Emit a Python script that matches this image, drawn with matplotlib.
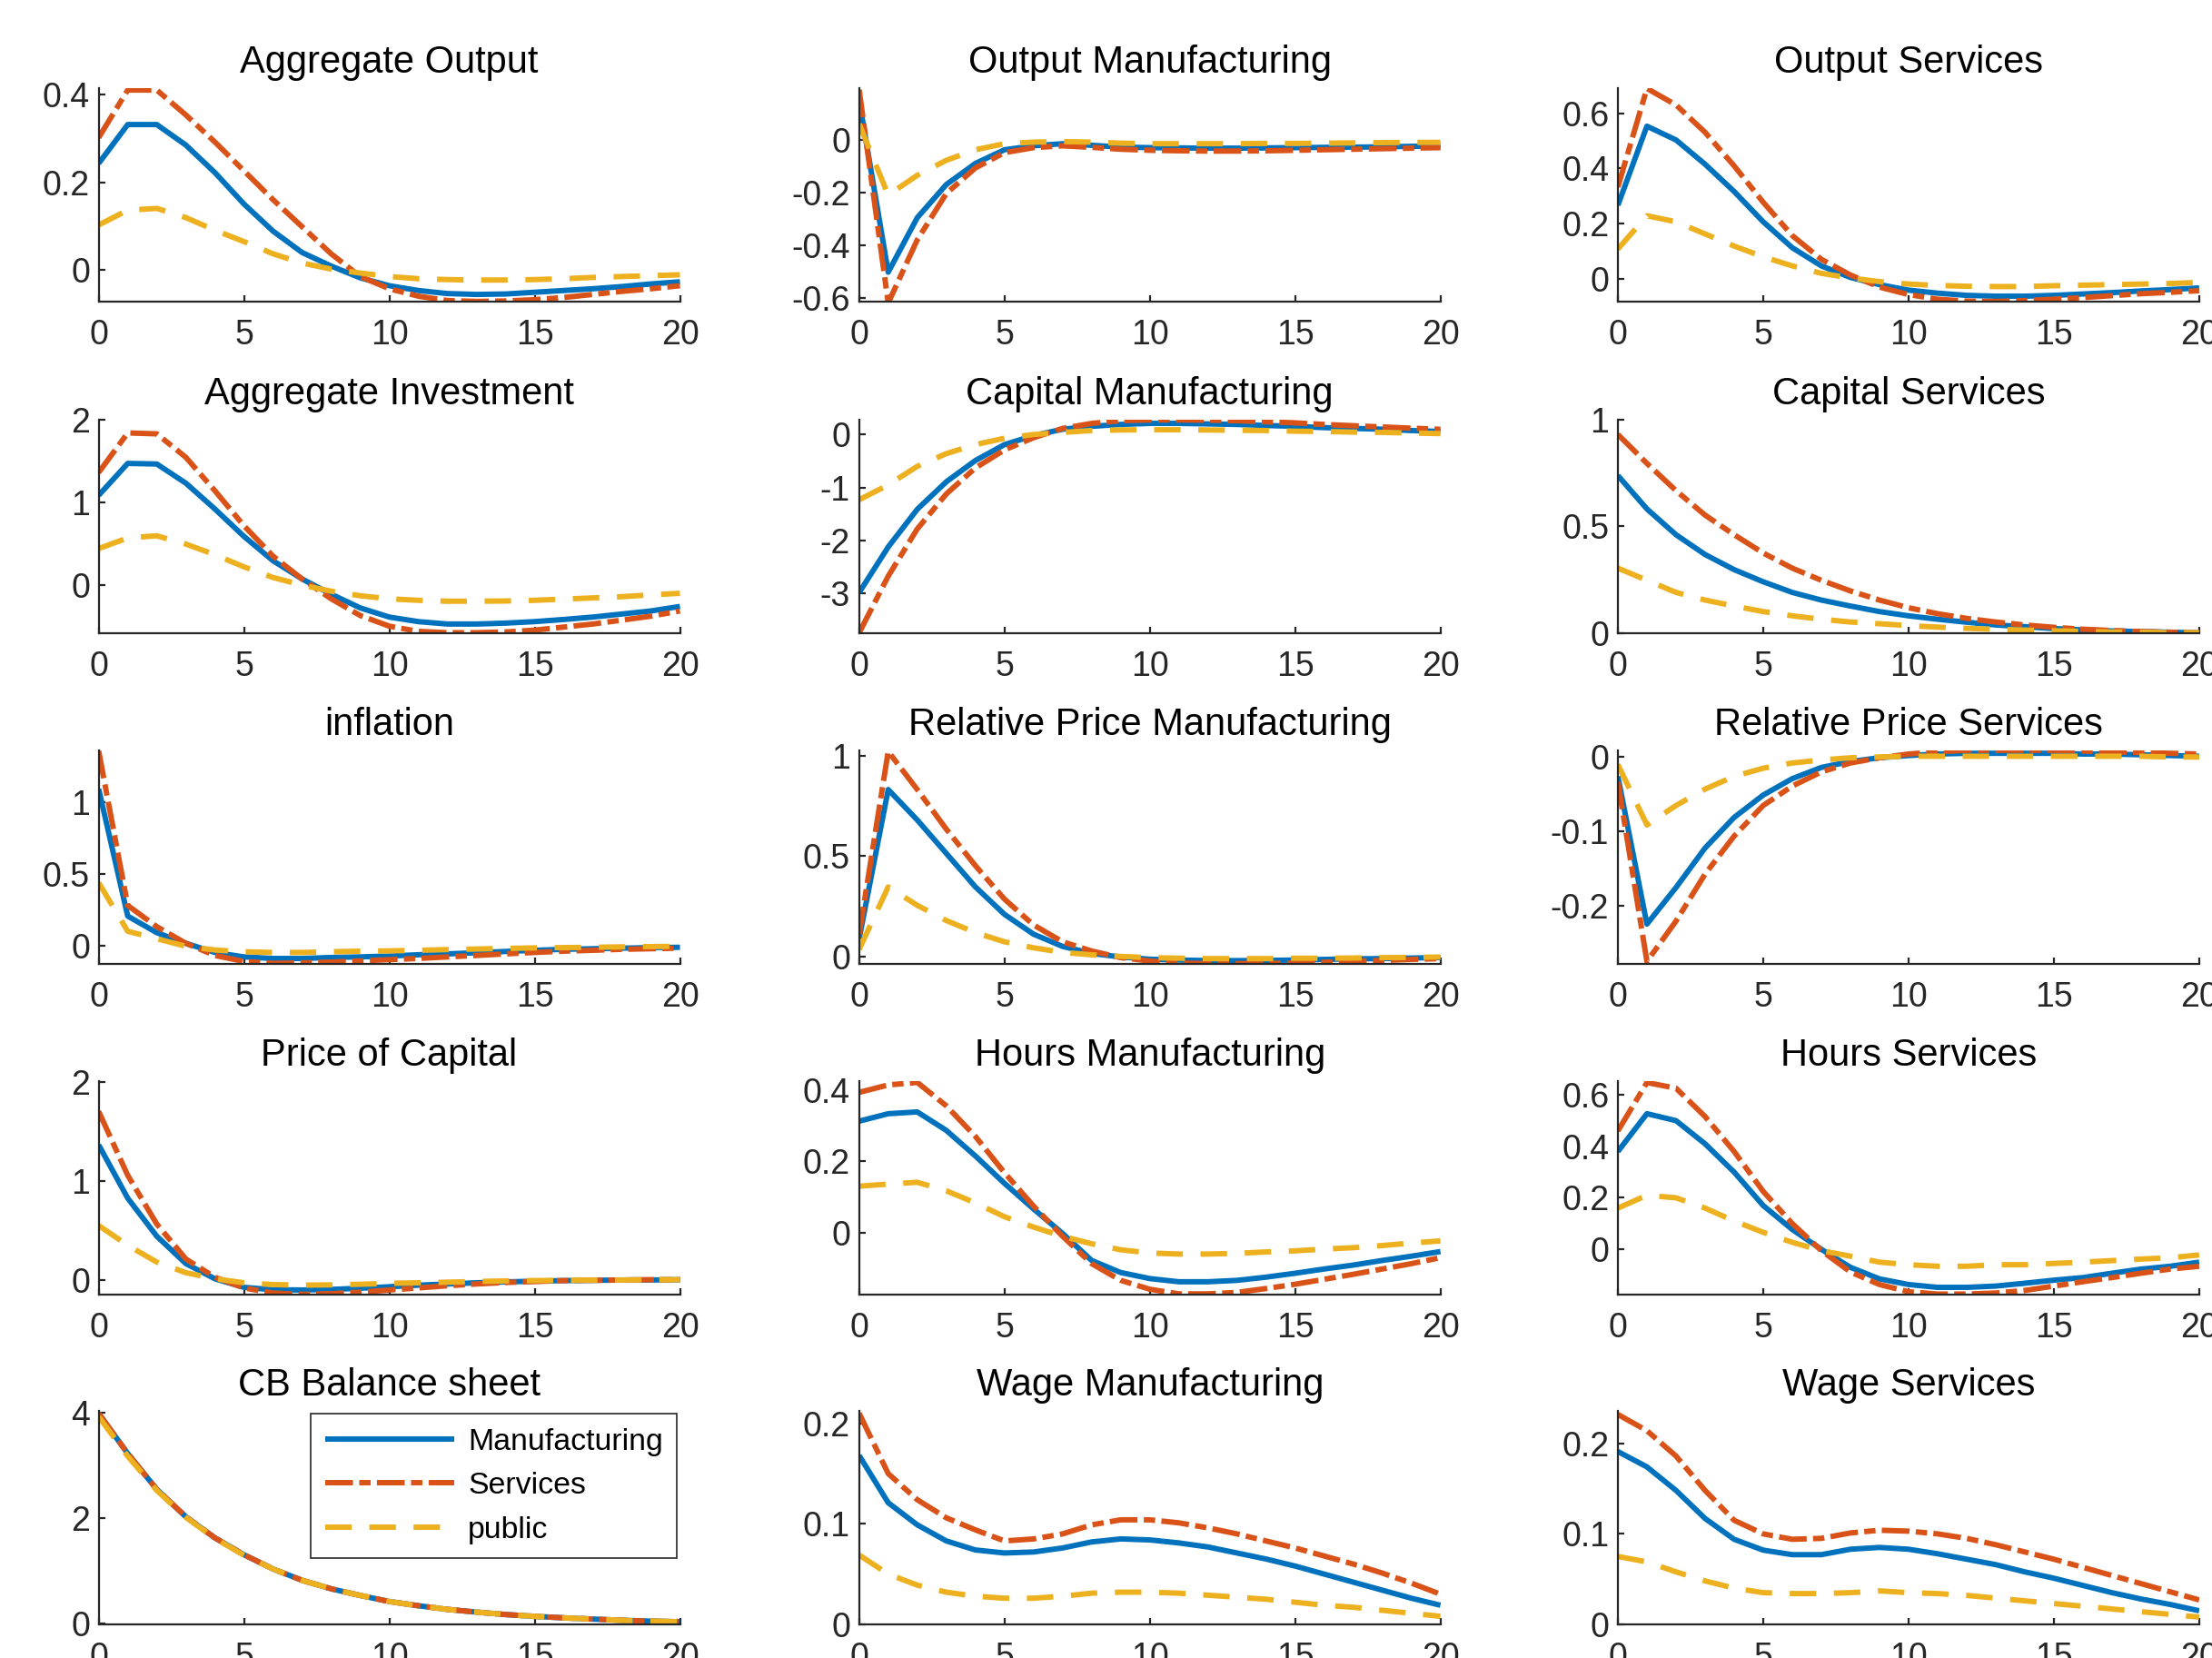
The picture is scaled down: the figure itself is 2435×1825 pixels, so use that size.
import numpy as np
import matplotlib
matplotlib.use("Agg")
import matplotlib.pyplot as plt

plt.rcParams["font.family"] = ["Liberation Sans", "DejaVu Sans"]
plt.rcParams["axes.unicode_minus"] = False
plt.rcParams["lines.scale_dashes"] = False

horizon = np.arange(21)

# ---- impulse responses: Manufacturing / Services / public -----------------
agg_output_manuf = [0.243, 0.332, 0.332, 0.285, 0.222, 0.150, 0.088, 0.039, 0.008, -0.019, -0.037,
                    -0.048, -0.055, -0.057, -0.056, -0.052, -0.048, -0.044, -0.039, -0.033, -0.028]
agg_output_serv = [0.302, 0.411, 0.411, 0.354, 0.292, 0.226, 0.160, 0.098, 0.036, -0.016, -0.044,
                   -0.061, -0.071, -0.073, -0.072, -0.069, -0.064, -0.057, -0.050, -0.044, -0.037]
agg_output_pub = [0.102, 0.136, 0.140, 0.119, 0.090, 0.064, 0.036, 0.015, 0.001, -0.008, -0.016,
                  -0.021, -0.023, -0.024, -0.024, -0.023, -0.021, -0.018, -0.016, -0.014, -0.012]

out_manuf_manuf = [0.151, -0.503, -0.296, -0.170, -0.090, -0.038, -0.023, -0.015, -0.021, -0.028, -0.030,
                   -0.031, -0.032, -0.032, -0.031, -0.030, -0.029, -0.028, -0.027, -0.025, -0.024]
out_manuf_serv = [0.190, -0.620, -0.380, -0.204, -0.107, -0.049, -0.030, -0.023, -0.029, -0.036, -0.040,
                  -0.042, -0.043, -0.043, -0.042, -0.040, -0.038, -0.036, -0.034, -0.032, -0.030]
out_manuf_pub = [0.060, -0.210, -0.135, -0.078, -0.038, -0.015, -0.009, -0.007, -0.009, -0.013, -0.015,
                 -0.015, -0.015, -0.015, -0.014, -0.014, -0.013, -0.012, -0.011, -0.010, -0.010]

out_serv_manuf = [0.266, 0.553, 0.503, 0.415, 0.316, 0.206, 0.112, 0.046, 0.004, -0.022, -0.042,
                  -0.053, -0.061, -0.064, -0.064, -0.061, -0.056, -0.051, -0.045, -0.040, -0.034]
out_serv_serv = [0.332, 0.690, 0.630, 0.531, 0.409, 0.277, 0.156, 0.070, 0.013, -0.031, -0.058,
                 -0.075, -0.082, -0.083, -0.080, -0.075, -0.069, -0.062, -0.055, -0.050, -0.044]
out_serv_pub = [0.107, 0.228, 0.206, 0.162, 0.118, 0.079, 0.046, 0.019, 0.002, -0.011, -0.020,
                -0.025, -0.028, -0.029, -0.029, -0.026, -0.024, -0.022, -0.020, -0.018, -0.014]

agg_inv_manuf = [1.087, 1.473, 1.466, 1.234, 0.921, 0.589, 0.295, 0.074, -0.110, -0.276, -0.387,
                 -0.442, -0.471, -0.471, -0.460, -0.442, -0.416, -0.387, -0.350, -0.313, -0.258]
agg_inv_serv = [1.363, 1.842, 1.831, 1.547, 1.142, 0.718, 0.350, 0.074, -0.166, -0.368, -0.497,
                -0.560, -0.576, -0.576, -0.567, -0.545, -0.508, -0.471, -0.424, -0.376, -0.313]
agg_inv_pub = [0.442, 0.571, 0.597, 0.497, 0.368, 0.221, 0.092, 0.000, -0.074, -0.129, -0.166,
               -0.184, -0.195, -0.195, -0.192, -0.184, -0.169, -0.155, -0.140, -0.118, -0.099]

cap_manuf_manuf = [-2.98, -2.12, -1.41, -0.89, -0.49, -0.19, -0.02, 0.10, 0.155, 0.19, 0.21,
                   0.21, 0.20, 0.19, 0.17, 0.155, 0.13, 0.115, 0.10, 0.075, 0.057]
cap_manuf_serv = [-3.74, -2.67, -1.78, -1.12, -0.63, -0.29, -0.06, 0.115, 0.21, 0.26, 0.275,
                  0.275, 0.27, 0.26, 0.24, 0.22, 0.19, 0.166, 0.143, 0.12, 0.098]
cap_manuf_pub = [-1.23, -0.95, -0.60, -0.36, -0.19, -0.07, 0.0, 0.04, 0.075, 0.086, 0.09,
                 0.09, 0.086, 0.08, 0.075, 0.063, 0.057, 0.046, 0.04, 0.029, 0.017]

cap_serv_manuf = [0.739, 0.582, 0.461, 0.368, 0.297, 0.240, 0.190, 0.154, 0.126, 0.100, 0.080,
                  0.064, 0.050, 0.037, 0.029, 0.020, 0.014, 0.009, 0.006, 0.003, 0.000]
cap_serv_serv = [0.932, 0.796, 0.668, 0.553, 0.461, 0.375, 0.304, 0.247, 0.197, 0.154, 0.118,
                 0.090, 0.068, 0.051, 0.037, 0.026, 0.017, 0.011, 0.006, 0.003, 0.000]
cap_serv_pub = [0.304, 0.247, 0.190, 0.154, 0.126, 0.100, 0.080, 0.064, 0.051, 0.043, 0.034,
                0.027, 0.021, 0.017, 0.013, 0.010, 0.007, 0.004, 0.003, 0.001, 0.000]

infl_manuf = [1.095, 0.207, 0.091, 0.017, -0.047, -0.078, -0.089, -0.089, -0.082, -0.078, -0.072,
              -0.063, -0.057, -0.049, -0.040, -0.032, -0.025, -0.021, -0.017, -0.013, -0.011]
infl_serv = [1.360, 0.281, 0.133, 0.017, -0.068, -0.110, -0.123, -0.120, -0.114, -0.106, -0.097,
             -0.089, -0.078, -0.068, -0.057, -0.047, -0.038, -0.032, -0.025, -0.021, -0.017]
infl_pub = [0.440, 0.101, 0.049, -0.004, -0.030, -0.042, -0.047, -0.047, -0.042, -0.038, -0.036,
            -0.032, -0.027, -0.023, -0.019, -0.015, -0.013, -0.011, -0.008, -0.006, -0.004]

relp_manuf_manuf = [0.088, 0.833, 0.681, 0.514, 0.347, 0.210, 0.111, 0.050, 0.015, -0.003, -0.014,
                    -0.018, -0.021, -0.021, -0.020, -0.018, -0.015, -0.012, -0.011, -0.008, -0.006]
relp_manuf_serv = [0.111, 1.023, 0.833, 0.635, 0.453, 0.286, 0.157, 0.073, 0.027, -0.006, -0.023,
                   -0.033, -0.036, -0.036, -0.035, -0.033, -0.029, -0.024, -0.020, -0.015, -0.011]
relp_manuf_pub = [0.035, 0.347, 0.255, 0.179, 0.119, 0.073, 0.043, 0.020, 0.008, 0.000, -0.006,
                  -0.009, -0.011, -0.011, -0.011, -0.009, -0.009, -0.008, -0.006, -0.005, -0.003]

relp_serv_manuf = [-0.026, -0.224, -0.175, -0.122, -0.081, -0.051, -0.029, -0.014, -0.006, -0.001, 0.002,
                   0.004, 0.005, 0.005, 0.005, 0.005, 0.004, 0.004, 0.003, 0.002, 0.001]
relp_serv_serv = [-0.033, -0.274, -0.220, -0.157, -0.106, -0.065, -0.039, -0.020, -0.008, -0.001, 0.004,
                  0.007, 0.009, 0.009, 0.009, 0.009, 0.008, 0.007, 0.006, 0.005, 0.004]
relp_serv_pub = [-0.010, -0.091, -0.065, -0.043, -0.026, -0.015, -0.008, -0.004, -0.001, 0.000, 0.001,
                 0.001, 0.001, 0.001, 0.001, 0.001, 0.001, 0.001, 0.001, 0.000, 0.000]

pk_manuf = [1.361, 0.823, 0.439, 0.163, 0.009, -0.077, -0.101, -0.104, -0.098, -0.086, -0.071,
            -0.055, -0.043, -0.031, -0.022, -0.015, -0.009, -0.006, -0.003, -0.003, 0.000]
pk_serv = [1.699, 1.054, 0.562, 0.209, 0.025, -0.083, -0.135, -0.148, -0.141, -0.126, -0.104,
           -0.083, -0.061, -0.043, -0.028, -0.018, -0.009, -0.006, -0.003, 0.000, 0.000]
pk_pub = [0.547, 0.347, 0.178, 0.071, 0.009, -0.031, -0.049, -0.055, -0.052, -0.046, -0.037,
          -0.031, -0.025, -0.018, -0.012, -0.009, -0.006, -0.003, -0.003, 0.000, 0.000]

hrs_manuf_manuf = [0.313, 0.334, 0.339, 0.287, 0.215, 0.138, 0.066, -0.003, -0.079, -0.113, -0.130,
                   -0.139, -0.139, -0.135, -0.126, -0.115, -0.103, -0.092, -0.079, -0.067, -0.054]
hrs_manuf_serv = [0.394, 0.415, 0.422, 0.356, 0.270, 0.168, 0.074, -0.011, -0.088, -0.135, -0.160,
                  -0.173, -0.173, -0.169, -0.158, -0.146, -0.132, -0.118, -0.103, -0.088, -0.071]
hrs_manuf_pub = [0.130, 0.136, 0.141, 0.117, 0.083, 0.044, 0.015, -0.011, -0.032, -0.049, -0.058,
                 -0.061, -0.061, -0.059, -0.055, -0.052, -0.047, -0.043, -0.037, -0.030, -0.024]

hrs_serv_manuf = [0.380, 0.527, 0.500, 0.410, 0.300, 0.170, 0.077, 0.000, -0.070, -0.115, -0.137,
                  -0.148, -0.148, -0.143, -0.132, -0.120, -0.110, -0.093, -0.077, -0.066, -0.050]
hrs_serv_serv = [0.460, 0.648, 0.626, 0.516, 0.380, 0.225, 0.100, -0.005, -0.088, -0.137, -0.165,
                 -0.174, -0.174, -0.170, -0.160, -0.143, -0.126, -0.110, -0.093, -0.077, -0.066]
hrs_serv_pub = [0.160, 0.210, 0.200, 0.160, 0.110, 0.066, 0.027, -0.005, -0.027, -0.050, -0.060,
                -0.066, -0.066, -0.060, -0.060, -0.055, -0.050, -0.044, -0.038, -0.033, -0.022]

cb_manuf = [3.98, 3.22, 2.54, 2.02, 1.62, 1.30, 1.03, 0.815, 0.654, 0.528, 0.413,
            0.333, 0.264, 0.212, 0.166, 0.132, 0.103, 0.080, 0.057, 0.040, 0.029]
cb_serv = [3.98, 3.22, 2.54, 2.02, 1.62, 1.30, 1.03, 0.815, 0.654, 0.528, 0.413,
           0.333, 0.264, 0.212, 0.166, 0.132, 0.103, 0.080, 0.057, 0.040, 0.029]
cb_pub = [3.92, 3.17, 2.52, 2.01, 1.61, 1.29, 1.03, 0.815, 0.654, 0.528, 0.413,
          0.333, 0.264, 0.212, 0.166, 0.132, 0.103, 0.080, 0.057, 0.040, 0.029]

wage_manuf_manuf = [0.168, 0.121, 0.099, 0.083, 0.074, 0.071, 0.072, 0.076, 0.082, 0.085, 0.084,
                    0.081, 0.077, 0.071, 0.065, 0.058, 0.050, 0.042, 0.034, 0.026, 0.019]
wage_manuf_serv = [0.210, 0.150, 0.124, 0.106, 0.094, 0.083, 0.085, 0.090, 0.099, 0.104, 0.104,
                   0.101, 0.096, 0.090, 0.083, 0.076, 0.068, 0.060, 0.051, 0.041, 0.030]
wage_manuf_pub = [0.069, 0.050, 0.039, 0.032, 0.028, 0.026, 0.026, 0.028, 0.031, 0.032, 0.032,
                  0.031, 0.029, 0.027, 0.025, 0.022, 0.019, 0.017, 0.014, 0.011, 0.008]

wage_serv_manuf = [0.191, 0.174, 0.148, 0.117, 0.094, 0.082, 0.077, 0.077, 0.083, 0.085, 0.083,
                   0.078, 0.072, 0.066, 0.058, 0.051, 0.043, 0.035, 0.028, 0.022, 0.015]
wage_serv_serv = [0.232, 0.214, 0.186, 0.148, 0.115, 0.100, 0.094, 0.095, 0.101, 0.104, 0.103,
                  0.100, 0.095, 0.088, 0.080, 0.072, 0.063, 0.054, 0.045, 0.036, 0.027]
wage_serv_pub = [0.075, 0.069, 0.058, 0.048, 0.040, 0.035, 0.034, 0.034, 0.035, 0.037, 0.035,
                 0.034, 0.032, 0.029, 0.026, 0.023, 0.020, 0.017, 0.014, 0.011, 0.008]

titles = ["Aggregate Output", "Output Manufacturing", "Output Services",
          "Aggregate Investment", "Capital Manufacturing", "Capital Services",
          "inflation", "Relative Price Manufacturing", "Relative Price Services",
          "Price of Capital", "Hours Manufacturing", "Hours Services",
          "CB Balance sheet", "Wage Manufacturing", "Wage Services"]

panel_series = [
    (agg_output_manuf, agg_output_serv, agg_output_pub),
    (out_manuf_manuf, out_manuf_serv, out_manuf_pub),
    (out_serv_manuf, out_serv_serv, out_serv_pub),
    (agg_inv_manuf, agg_inv_serv, agg_inv_pub),
    (cap_manuf_manuf, cap_manuf_serv, cap_manuf_pub),
    (cap_serv_manuf, cap_serv_serv, cap_serv_pub),
    (infl_manuf, infl_serv, infl_pub),
    (relp_manuf_manuf, relp_manuf_serv, relp_manuf_pub),
    (relp_serv_manuf, relp_serv_serv, relp_serv_pub),
    (pk_manuf, pk_serv, pk_pub),
    (hrs_manuf_manuf, hrs_manuf_serv, hrs_manuf_pub),
    (hrs_serv_manuf, hrs_serv_serv, hrs_serv_pub),
    (cb_manuf, cb_serv, cb_pub),
    (wage_manuf_manuf, wage_manuf_serv, wage_manuf_pub),
    (wage_serv_manuf, wage_serv_serv, wage_serv_pub),
]

y_limits = [(-0.073, 0.416), (-0.614, 0.197), (-0.083, 0.692),
            (-0.578, 2.007), (-3.74, 0.287), (0.0, 1.003),
            (-0.125, 1.366), (-0.036, 1.03), (-0.277, 0.0093),
            (-0.15, 2.006), (-0.175, 0.426), (-0.176, 0.654),
            (-0.02, 4.03), (0.0, 0.2125), (0.0, 0.236)]

y_ticks = [[0, 0.2, 0.4], [-0.6, -0.4, -0.2, 0], [0, 0.2, 0.4, 0.6],
           [0, 1, 2], [-3, -2, -1, 0], [0, 0.5, 1],
           [0, 0.5, 1], [0, 0.5, 1], [-0.2, -0.1, 0],
           [0, 1, 2], [0, 0.2, 0.4], [0, 0.2, 0.4, 0.6],
           [0, 2, 4], [0, 0.1, 0.2], [0, 0.1, 0.2]]

x_ticks = [0, 5, 10, 15, 20]
series_names = ["Manufacturing", "Services", "public"]

colors = ["#0072BD", "#D95319", "#EDB120"]
dash_styles = [None, (0, (22, 5, 9, 5)), (0, (21, 14))]
lw = 4.3
ink = "#262626"

fig = plt.figure(figsize=(24.35, 18.25), dpi=100)

col_left = [0.0446, 0.3884, 0.7314]
row_bottom = [0.8182, 0.6183, 0.4188, 0.2192, 0.0203]
ax_w, ax_h = 0.2628, 0.1288

axes = []
for i, (title, series) in enumerate(zip(titles, panel_series)):
    r, c = divmod(i, 3)
    ax = fig.add_axes([col_left[c], row_bottom[r], ax_w, ax_h])
    axes.append(ax)
    for k, vals in enumerate(series):
        line, = ax.plot(horizon, vals, color=colors[k], lw=lw,
                        label=series_names[k], solid_capstyle="butt",
                        dash_capstyle="butt")
        if dash_styles[k] is not None:
            line.set_linestyle(dash_styles[k])
    ax.set_xlim(0, 20)
    ax.set_ylim(*y_limits[i])
    ax.set_xticks(x_ticks)
    ax.set_yticks(y_ticks[i])
    ax.set_yticklabels([f"{v:g}" for v in y_ticks[i]])
    ax.spines["top"].set_visible(False)
    ax.spines["right"].set_visible(False)
    for s in ("left", "bottom"):
        ax.spines[s].set_linewidth(1.6)
        ax.spines[s].set_color(ink)
    ax.tick_params(axis="both", direction="in", length=5, width=1.6,
                   colors=ink, labelsize=27)
    ax.tick_params(axis="x", pad=14)
    ax.tick_params(axis="y", pad=7)
    ax.set_title(title, fontsize=30, color="black", pad=12)

leg = axes[12].legend(loc="upper right", fontsize=24.4, frameon=True,
                      fancybox=False, framealpha=1, edgecolor=ink,
                      borderpad=0.45, labelspacing=0.52, handlelength=4.2,
                      handletextpad=0.45, borderaxespad=0.1)
leg.get_frame().set_linewidth(1.2)

fig.savefig("out.png", dpi=100)
